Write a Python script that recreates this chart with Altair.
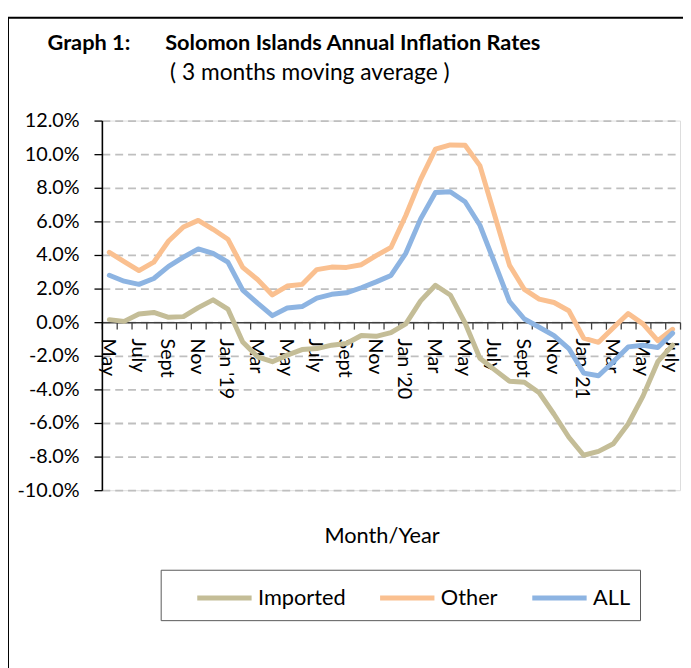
import json
import altair as alt
import pandas as pd

# ---------------- data ----------------
months = [
    "May 2018", "Jun 2018", "Jul 2018", "Aug 2018", "Sep 2018", "Oct 2018", "Nov 2018", "Dec 2018",
    "Jan 2019", "Feb 2019", "Mar 2019", "Apr 2019", "May 2019", "Jun 2019", "Jul 2019", "Aug 2019",
    "Sep 2019", "Oct 2019", "Nov 2019", "Dec 2019", "Jan 2020", "Feb 2020", "Mar 2020", "Apr 2020",
    "May 2020", "Jun 2020", "Jul 2020", "Aug 2020", "Sep 2020", "Oct 2020", "Nov 2020", "Dec 2020",
    "Jan 2021", "Feb 2021", "Mar 2021", "Apr 2021", "May 2021", "Jun 2021", "Jul 2021",
]
tick_labels = ["May", "July", "Sept", "Nov", "Jan '19", "Mar", "May", "July", "Sept", "Nov",
               "Jan '20", "Mar", "May", "July", "Sept", "Nov", "Jan '21", "Mar", "May", "July"]

imported = [0.15, 0.05, 0.49, 0.58, 0.29, 0.33, 0.87, 1.33, 0.78, -1.18,
            -2.06, -2.35, -1.96, -1.63, -1.57, -1.37, -1.27, -0.79, -0.84, -0.62,
            -0.10, 1.27, 2.20, 1.62, -0.05, -2.15, -2.84, -3.52, -3.58, -4.20,
            -5.48, -6.85, -7.92, -7.69, -7.24, -6.06, -4.40, -2.35, -1.37]
other = [4.16, 3.61, 3.07, 3.57, 4.83, 5.67, 6.06, 5.53, 4.94, 3.26,
         2.54, 1.62, 2.15, 2.25, 3.13, 3.28, 3.26, 3.42, 3.96, 4.45,
         6.35, 8.50, 10.30, 10.55, 10.53, 9.32, 6.35, 3.38, 1.95, 1.37,
         1.17, 0.68, -0.95, -1.20, -0.33, 0.52, -0.10, -1.10, -0.42]
all_items = [2.79, 2.44, 2.25, 2.60, 3.32, 3.87, 4.36, 4.10, 3.57, 1.91,
             1.13, 0.39, 0.84, 0.93, 1.43, 1.66, 1.75, 2.05, 2.40, 2.78,
             4.10, 6.15, 7.72, 7.76, 7.17, 5.77, 3.51, 1.23, 0.19, -0.30,
             -0.80, -1.57, -3.03, -3.19, -2.35, -1.47, -1.37, -1.51, -0.65]

series_names = ["Imported", "Other", "ALL"]
series_colors = ["#c4bd97", "#fac090", "#8db4e2"]

rows = []
for i, m in enumerate(months):
    for name, vals in zip(series_names, [imported, other, all_items]):
        rows.append({"idx": i, "month": m, "series": name, "value": vals[i]})
df = pd.DataFrame(rows)

# ---------------- layout ----------------
W, H = 585, 374
Y_MIN, Y_MAX = -10, 12
zero_offset = -H * (0 - Y_MIN) / (Y_MAX - Y_MIN)
FONT = "Lato"

label_values = list(range(0, len(months), 2))
tick_values = [k - 0.5 for k in range(len(months) + 1)]
axis_values = sorted(label_values + tick_values)
label_expr = ("datum.value % 1 != 0 ? '' : " + json.dumps(tick_labels) +
              "[round(datum.value / 2)]")

x_axis = alt.Axis(
    values=axis_values, labelExpr=label_expr, labelAngle=90, labelPadding=9,
    labelOffset=-2,
    labelFont=FONT, labelFontSize=20, labelColor="black", labelOverlap=False,
    labelFlush=False, grid=False, ticks=True, tickSize=7, tickWidth=1.3,
    tickColor="#404040",
    tickOpacity={"condition": {"test": "datum.value % 1 == 0", "value": 0}, "value": 1},
    domainColor="#404040", domainWidth=1.5, offset=zero_offset,
    title="Month/Year", titleFont=FONT, titleFontSize=22, titleFontWeight="normal",
    titleColor="black", titleX=283, titleY=223, titleAlign="center",
    titleBaseline="alphabetic", titleAnchor="start",
)
y_axis = alt.Axis(
    values=list(range(Y_MIN, Y_MAX + 1, 2)),
    labelExpr="(datum.value < 0 ? '-' : '') + format(abs(datum.value), '.1f') + '%'",
    grid=True, gridDash=[8, 5], gridColor="#bfbfbf", gridWidth=1.8,
    domainColor="black", domainWidth=1.6, tickColor="black", tickSize=8, tickWidth=1.3,
    labelPadding=15, labelFont=FONT, labelFontSize=20, labelColor="black", title=None,
)

lines = alt.Chart(df).mark_line(strokeWidth=5, strokeJoin="round", strokeCap="round").encode(
    x=alt.X("idx:Q", scale=alt.Scale(domain=[-0.5, len(months) - 0.5], nice=False, zero=False),
            axis=x_axis),
    y=alt.Y("value:Q", scale=alt.Scale(domain=[Y_MIN, Y_MAX], nice=False, zero=False),
            axis=y_axis),
    color=alt.Color("series:N", sort=series_names,
                    scale=alt.Scale(domain=series_names, range=series_colors),
                    legend=alt.Legend(orient="none", legendX=94, legendY=453,
                                      direction="horizontal", title=None,
                                      symbolType="stroke", symbolSize=3025,
                                      symbolStrokeWidth=5, labelFont=FONT,
                                      labelFontSize=22, labelColor="black",
                                      labelOffset=4, columnPadding=24, padding=0,
                                      gridAlign="none")),
    detail="series:N",
)


def text_layer(s, x, y, size, weight="normal"):
    return alt.Chart(pd.DataFrame({"t": [s]})).mark_text(
        align="left", baseline="alphabetic", font=FONT, fontSize=size,
        fontWeight=weight, color="black",
    ).encode(text="t:N", x=alt.value(x), y=alt.value(y))


def box_layer(x, x2, y, y2, color, width):
    return alt.Chart(pd.DataFrame({"a": [0]})).mark_rect(
        fillOpacity=0, stroke=color, strokeWidth=width,
    ).encode(x=alt.value(x), x2=alt.value(x2), y=alt.value(y), y2=alt.value(y2))


frame = box_layer(-95, 620, -104, 600, "black", 2)
legend_box = box_layer(60, 545, 455, 506, "#595959", 1)
t1 = text_layer("Graph 1:", -55, -71, 22, "bold")
t2 = text_layer("Solomon Islands Annual Inflation Rates", 64, -71, 22, "bold")
t3 = text_layer("( 3 months moving average )", 69, -41, 23)

chart = alt.layer(frame, legend_box, lines, t1, t2, t3).properties(
    width=W, height=H,
    autosize=alt.AutoSizeParams(type="none"),
    padding={"left": 95, "top": 110, "right": 3, "bottom": 176},
).configure_view(stroke="#7f7f7f", strokeWidth=1.8).configure(font=FONT)

chart.save("out.html", embed_options={"renderer": "svg", "actions": False})
